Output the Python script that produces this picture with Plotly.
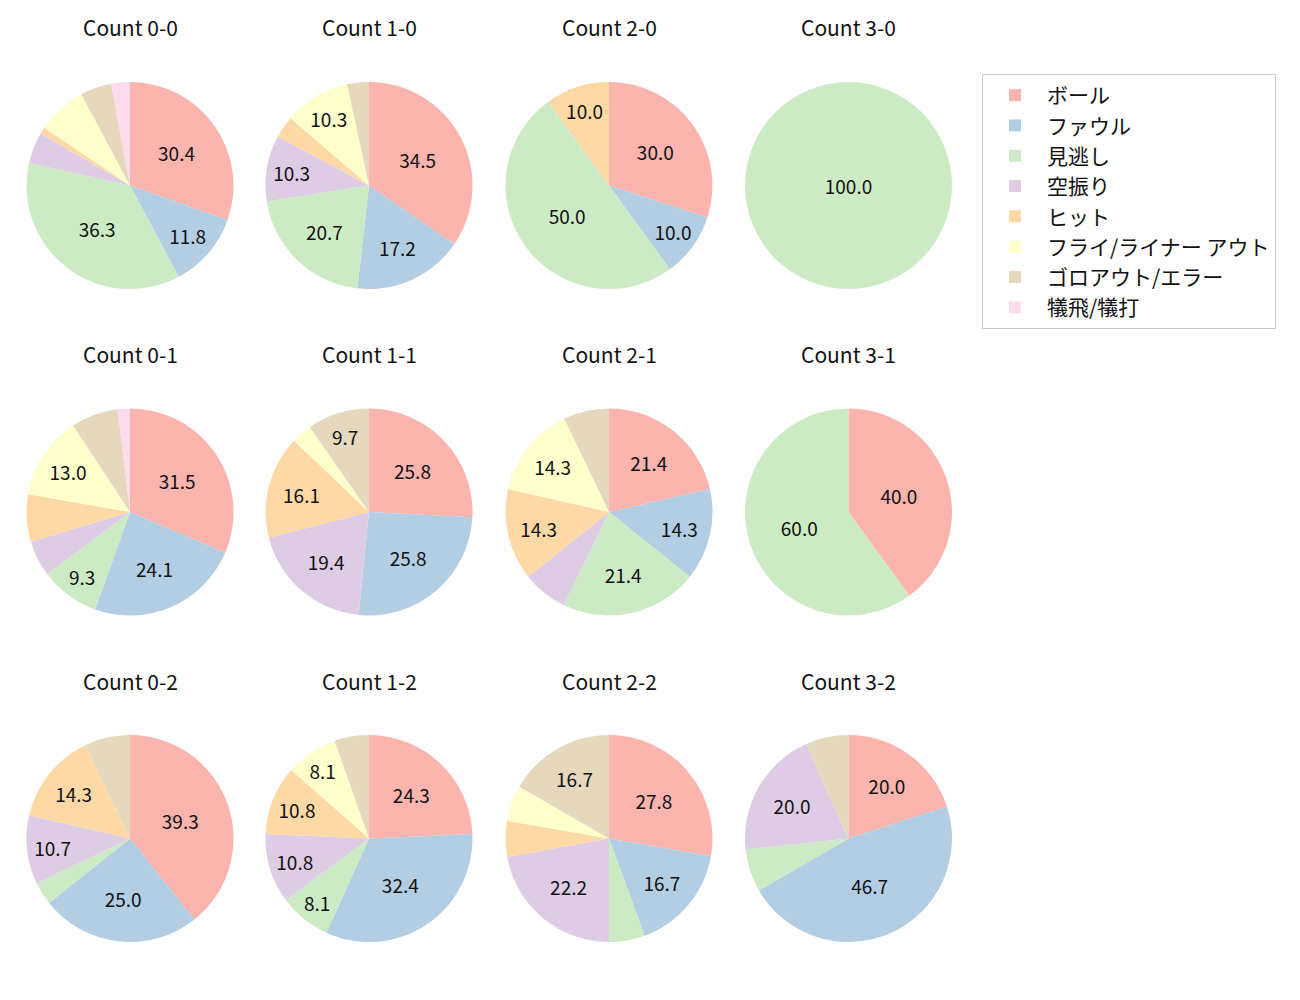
import plotly.graph_objects as go

labels = ["ボール", "ファウル", "見逃し", "空振り", "ヒット",
          "フライ/ライナー アウト", "ゴロアウト/エラー", "犠飛/犠打"]
colors = ["#fbb4ae", "#b3cde3", "#ccebc5", "#decbe4",
          "#fed9a6", "#ffffcc", "#e5d8bd", "#fddaec"]

titles = ["Count 0-0", "Count 1-0", "Count 2-0", "Count 3-0",
          "Count 0-1", "Count 1-1", "Count 2-1", "Count 3-1",
          "Count 0-2", "Count 1-2", "Count 2-2", "Count 3-2"]

count_0_0 = [30.4, 11.8, 36.3, 4.9, 1.0, 7.8, 4.9, 2.9]
count_1_0 = [34.5, 17.2, 20.7, 10.3, 3.4, 10.3, 3.4, 0]
count_2_0 = [30.0, 10.0, 50.0, 0, 10.0, 0, 0, 0]
count_3_0 = [0, 0, 100.0, 0, 0, 0, 0, 0]
count_0_1 = [31.5, 24.1, 9.3, 5.6, 7.4, 13.0, 7.4, 1.9]
count_1_1 = [25.8, 25.8, 0, 19.4, 16.1, 3.2, 9.7, 0]
count_2_1 = [21.4, 14.3, 21.4, 7.1, 14.3, 14.3, 7.1, 0]
count_3_1 = [40.0, 0, 60.0, 0, 0, 0, 0, 0]
count_0_2 = [39.3, 25.0, 3.6, 10.7, 14.3, 0, 7.1, 0]
count_1_2 = [24.3, 32.4, 8.1, 10.8, 10.8, 8.1, 5.4, 0]
count_2_2 = [27.8, 16.7, 5.6, 22.2, 5.6, 5.6, 16.7, 0]
count_3_2 = [20.0, 46.7, 6.7, 20.0, 0, 0, 6.7, 0]

series = [count_0_0, count_1_0, count_2_0, count_3_0,
          count_0_1, count_1_1, count_2_1, count_3_1,
          count_0_2, count_1_2, count_2_2, count_3_2]

W, H = 1300, 1000
OFF = 8  # page body margin
col_cx = [130 - OFF, 369 - OFF, 609 - OFF, 848.5 - OFF]
row_cy = [185.5 - OFF, 512 - OFF, 838.5 - OFF]
R = 103.5
FONT = "Noto Sans CJK JP"

fig = go.Figure()
for i, vals in enumerate(series):
    r, c = divmod(i, 4)
    cx, cy = col_cx[c], row_cy[r]
    txt = [f"{v:.1f}" if v >= 8 else "" for v in vals]
    fig.add_trace(go.Pie(
        labels=labels, values=vals, text=txt, textinfo="text",
        textposition="inside", insidetextorientation="horizontal",
        sort=False, direction="clockwise", rotation=0,
        marker=dict(colors=colors, line=dict(width=0)),
        textfont=dict(family=FONT, size=19, color="#111"),
        domain=dict(x=[(cx - R) / W, (cx + R) / W],
                    y=[1 - (cy + R) / H, 1 - (cy - R) / H]),
        showlegend=(i == 0), hoverinfo="label+percent",
    ))
    fig.add_annotation(text=titles[i], x=cx / W, y=1 - (cy - R - 54.5) / H,
                       xref="paper", yref="paper", showarrow=False,
                       xanchor="center", yanchor="middle",
                       font=dict(family=FONT, size=21, color="#111"))

fig.update_layout(
    width=W, height=H,
    margin=dict(l=0, r=0, t=0, b=0),
    paper_bgcolor="white", plot_bgcolor="white",
    font=dict(family=FONT),
    legend=dict(x=(982 - OFF) / W, y=1 - (74 - OFF) / H,
                xanchor="left", yanchor="top",
                bordercolor="#cccccc", borderwidth=1, bgcolor="white",
                font=dict(family=FONT, size=21, color="#111"),
                itemwidth=54, traceorder="normal"),
)

fig.write_html("out.html")
